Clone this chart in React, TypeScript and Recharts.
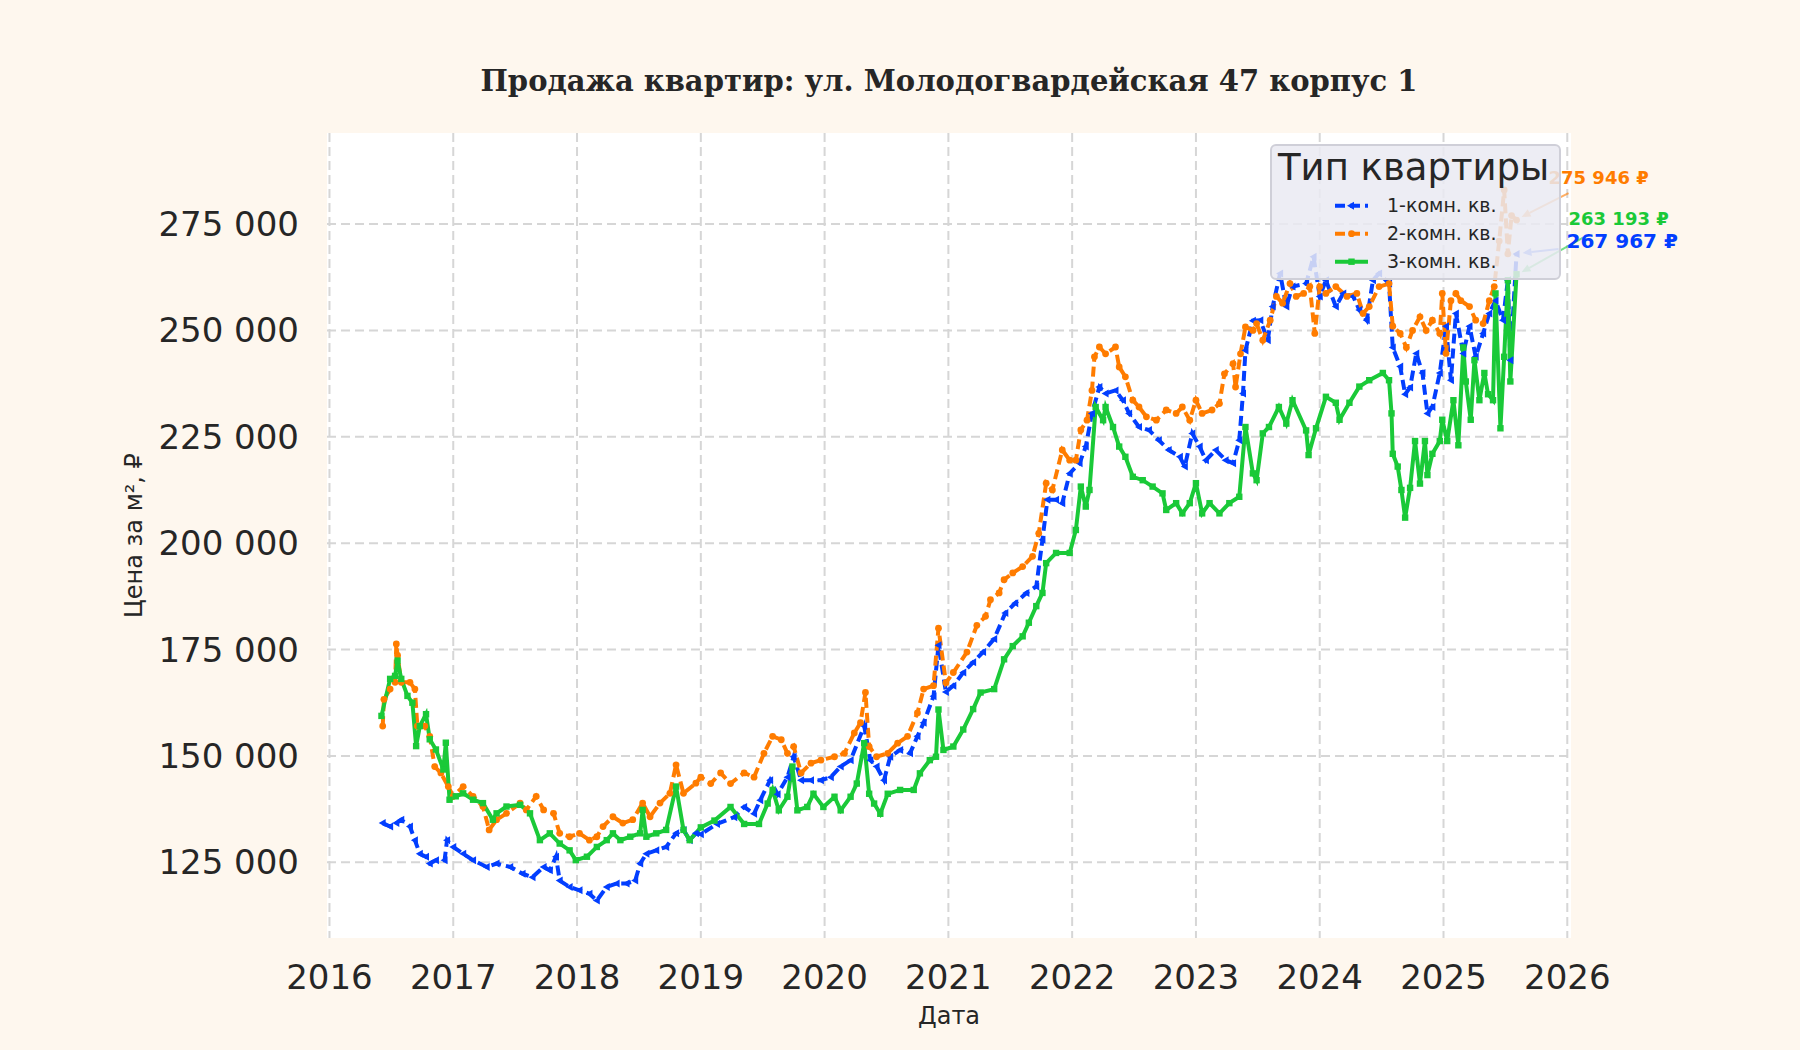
import React from "react";
import {
  LineChart,
  Line,
  XAxis,
  YAxis,
  CartesianGrid,
  Legend,
  ReferenceDot,
  Label,
} from "recharts";

// ---- data ----
const yearTicks = [2016, 2017, 2018, 2019, 2020, 2021, 2022, 2023, 2024, 2025, 2026];
const priceTicks = [125000, 150000, 175000, 200000, 225000, 250000, 275000];

const oneRoomDates = [
  2016.43, 2016.49, 2016.54, 2016.58, 2016.65, 2016.69, 2016.73, 2016.78, 2016.81, 2016.86,
  2016.93, 2016.95, 2017.0, 2017.08, 2017.16, 2017.27, 2017.35, 2017.46, 2017.56, 2017.64,
  2017.73, 2017.78, 2017.83, 2017.86, 2017.94, 2018.02, 2018.1, 2018.16, 2018.24, 2018.32,
  2018.4, 2018.47, 2018.51, 2018.56, 2018.64, 2018.72, 2018.8, 2018.86, 2018.91, 2018.96,
  2019.0, 2019.13, 2019.27, 2019.35, 2019.43, 2019.48, 2019.56, 2019.62, 2019.7, 2019.75,
  2019.81, 2019.89, 2019.97, 2020.05, 2020.13, 2020.21, 2020.32, 2020.37, 2020.42, 2020.48,
  2020.53, 2020.61, 2020.69, 2020.75, 2020.8, 2020.88, 2020.92, 2020.98, 2021.04, 2021.12,
  2021.2, 2021.28, 2021.37, 2021.46, 2021.54, 2021.63, 2021.71, 2021.76, 2021.8, 2021.87,
  2021.92, 2021.98, 2022.06, 2022.11, 2022.16, 2022.22, 2022.27, 2022.35, 2022.41, 2022.46,
  2022.54, 2022.62, 2022.7, 2022.78, 2022.87, 2022.91, 2022.97, 2023.03, 2023.08, 2023.16,
  2023.24, 2023.3, 2023.35, 2023.38, 2023.4, 2023.46, 2023.52, 2023.58, 2023.62, 2023.68,
  2023.73, 2023.78, 2023.89, 2023.95, 2024.0, 2024.05, 2024.13, 2024.19, 2024.27, 2024.32,
  2024.38, 2024.43, 2024.48, 2024.56, 2024.59, 2024.65, 2024.69, 2024.73, 2024.78, 2024.83,
  2024.87, 2024.91, 2024.97, 2025.02, 2025.06, 2025.1, 2025.16, 2025.21, 2025.26, 2025.32,
  2025.37, 2025.42, 2025.48, 2025.52, 2025.54, 2025.59,
];
const oneRoomPrices = [
  134200, 133400, 134200, 135000, 133400, 130200, 127000, 126300, 124700, 125500,
  125500, 130200, 128600, 127000, 125500, 123900, 124700, 123900, 122300, 121500,
  123900, 123100, 126300, 120700, 119200, 118400, 117600, 116000, 119200, 120000,
  120000, 120700, 124700, 127000, 127800, 128600, 131800, 132600, 130200, 131800,
  131600, 134000, 135600, 138000, 136400, 139600, 144300, 141000, 145000, 149800,
  144300, 144300, 144300, 145000, 147500, 149000, 157000, 149000, 147500, 144300,
  149800, 151400, 150600, 154600, 157800, 164000, 176000, 165000, 166500, 169600,
  172000, 174400, 177500, 183600, 185900, 188300, 189800, 200800, 210200, 210200,
  209400, 216400, 218800, 222700, 230500, 236700, 235200, 235900, 233600, 230500,
  227300, 226600, 224200, 221900, 220300, 218000, 225800, 222700, 219500, 221900,
  219500, 218800, 224200, 235200, 245300, 252300, 252400, 247700, 255600, 263400,
  255600, 260300, 261000, 267300, 258000, 261800, 255600, 258700, 258000, 254800,
  252400, 261800, 263400, 261000, 246000, 241500, 235000, 236600, 244600, 240000,
  230500, 232000, 240000, 251000, 238300, 254000, 244600, 251000, 243800, 249300,
  254000, 257000, 252400, 261800, 243000, 267967,
];

const twoRoomDates = [
  2016.43, 2016.44, 2016.49, 2016.53, 2016.54, 2016.55, 2016.58, 2016.65, 2016.69, 2016.71,
  2016.77, 2016.81, 2016.85, 2016.9, 2016.96, 2017.0, 2017.08, 2017.16, 2017.24, 2017.29,
  2017.35, 2017.43, 2017.54, 2017.59, 2017.67, 2017.73, 2017.81, 2017.86, 2017.94, 2018.02,
  2018.1, 2018.16, 2018.21, 2018.29, 2018.37, 2018.45, 2018.53, 2018.59, 2018.67, 2018.75,
  2018.8, 2018.86, 2018.96, 2019.0, 2019.08, 2019.16, 2019.24, 2019.35, 2019.43, 2019.51,
  2019.58, 2019.65, 2019.7, 2019.75, 2019.81, 2019.89, 2019.97, 2020.08, 2020.16, 2020.24,
  2020.29, 2020.33, 2020.36, 2020.42, 2020.51, 2020.59, 2020.67, 2020.75, 2020.8, 2020.88,
  2020.92, 2020.98, 2021.04, 2021.15, 2021.23, 2021.3, 2021.34, 2021.41, 2021.45, 2021.52,
  2021.6, 2021.68, 2021.73, 2021.79, 2021.84, 2021.92, 2021.98, 2022.03, 2022.07, 2022.12,
  2022.16, 2022.18, 2022.22, 2022.27, 2022.35, 2022.38, 2022.43, 2022.49, 2022.54, 2022.6,
  2022.68, 2022.76, 2022.84, 2022.89, 2022.95, 2023.0, 2023.05, 2023.13, 2023.19, 2023.23,
  2023.3, 2023.32, 2023.36, 2023.4, 2023.46, 2023.49, 2023.54, 2023.6, 2023.65, 2023.7,
  2023.76, 2023.81, 2023.87, 2023.92, 2023.96, 2024.0, 2024.05, 2024.13, 2024.22, 2024.3,
  2024.35, 2024.4, 2024.48, 2024.56, 2024.59, 2024.65, 2024.7, 2024.75, 2024.81, 2024.86,
  2024.91, 2024.97, 2024.99, 2025.02, 2025.06, 2025.1, 2025.14, 2025.21, 2025.26, 2025.32,
  2025.37, 2025.41, 2025.45, 2025.49, 2025.52, 2025.55, 2025.59,
];
const twoRoomPrices = [
  157000, 163300, 165700, 167300, 176300, 173600, 167300, 167300, 165700, 157000,
  157000, 154600, 147500, 146000, 142800, 140500, 142800, 140500, 138100, 132600,
  135000, 136500, 138900, 137300, 140500, 137300, 136500, 131800, 131000, 131800,
  130200, 131000, 133400, 135700, 134200, 135000, 138900, 135700, 138900, 141200,
  147900, 141200, 143600, 145000, 143500, 146000, 143500, 146000, 145000, 150600,
  154600, 153800, 150600, 152200, 146000, 148300, 149000, 149800, 150600, 155400,
  157800, 164900, 152200, 149800, 150600, 153000, 154600, 160100, 165700, 166500,
  180000, 167200, 169600, 174400, 180700, 182800, 186700, 188300, 191400, 193000,
  194500, 196900, 202300, 214100, 212500, 221900, 219500, 219500, 226600, 228900,
  235900, 243800, 246100, 244500, 246100, 241400, 239100, 233600, 232000, 229700,
  228900, 231300, 230500, 232000, 228900, 233600, 230500, 231300, 232800, 239800,
  242200, 236700, 244500, 250800, 250000, 251600, 247700, 252400, 258000, 256400,
  261000, 258000, 258700, 260300, 249300, 260300, 258700, 260300, 258000, 258700,
  254000, 255600, 260300, 261000, 251000, 249300, 246000, 250000, 253200, 250000,
  252400, 249300, 258700, 244600, 257000, 258700, 257000, 255600, 252400, 251600,
  257000, 260300, 271000, 283000, 268000, 277000, 275946,
];

const threeRoomDates = [
  2016.42, 2016.49, 2016.53, 2016.55, 2016.58, 2016.63, 2016.67, 2016.7, 2016.73, 2016.78,
  2016.81, 2016.86, 2016.92, 2016.94, 2016.97, 2017.02, 2017.08, 2017.16, 2017.24, 2017.32,
  2017.35, 2017.43, 2017.54, 2017.62, 2017.7, 2017.78, 2017.86, 2017.94, 2017.99, 2018.08,
  2018.16, 2018.24, 2018.29, 2018.35, 2018.43, 2018.51, 2018.53, 2018.56, 2018.64, 2018.72,
  2018.8, 2018.86, 2018.91, 2019.0, 2019.11, 2019.24, 2019.35, 2019.47, 2019.54, 2019.58,
  2019.63, 2019.7, 2019.74, 2019.78, 2019.86, 2019.91, 2019.99, 2020.08, 2020.13, 2020.21,
  2020.26, 2020.32, 2020.36, 2020.4, 2020.45, 2020.51, 2020.61, 2020.72, 2020.77, 2020.85,
  2020.9, 2020.92, 2020.96, 2021.04, 2021.12, 2021.2, 2021.26, 2021.37, 2021.45, 2021.52,
  2021.6, 2021.65, 2021.71, 2021.76, 2021.79, 2021.87, 2021.98, 2022.03, 2022.07, 2022.11,
  2022.14, 2022.19, 2022.25, 2022.27, 2022.33, 2022.38, 2022.43, 2022.49, 2022.57, 2022.65,
  2022.73, 2022.76, 2022.84, 2022.89, 2022.95, 2023.0, 2023.05, 2023.11, 2023.19, 2023.27,
  2023.35, 2023.4, 2023.46, 2023.49, 2023.54, 2023.59, 2023.67, 2023.73, 2023.78, 2023.89,
  2023.91, 2023.97, 2024.05, 2024.13, 2024.16, 2024.24, 2024.32, 2024.4, 2024.51, 2024.56,
  2024.58, 2024.59, 2024.63, 2024.66, 2024.69, 2024.73, 2024.77, 2024.81, 2024.85, 2024.87,
  2024.91, 2024.97, 2024.99, 2025.03, 2025.08, 2025.12, 2025.16, 2025.18, 2025.22, 2025.25,
  2025.29, 2025.33, 2025.36, 2025.4, 2025.42, 2025.46, 2025.49, 2025.52, 2025.54, 2025.59,
];
const threeRoomPrices = [
  159400, 168100, 168800, 172400, 168100, 164100, 162500, 152300, 157000, 159800,
  153900, 151500, 146800, 153100, 139700, 140500, 141200, 139700, 138900, 135000,
  136500, 138100, 138500, 136500, 130200, 131800, 129400, 127800, 125500, 126300,
  128600, 130200, 131800, 130200, 131000, 131800, 137300, 131000, 131800, 132600,
  142800, 132600, 130200, 133200, 134800, 138000, 134000, 134000, 138800, 142000,
  137200, 140400, 147500, 137200, 138000, 141100, 138000, 140400, 137200, 140400,
  143500, 153000, 141100, 138800, 136400, 141100, 142000, 142000, 145900, 149000,
  149800, 160900, 151400, 152200, 156200, 161000, 164900, 165700, 172700, 175800,
  178100, 181300, 185200, 188300, 195300, 197700, 197700, 203100, 213300, 208600,
  212500, 232000, 228900, 232000, 227300, 222700, 220300, 215600, 214800, 213300,
  211700, 207800, 209400, 207000, 209400, 214100, 207000, 209400, 207000, 209400,
  210900, 227300, 216400, 214800, 225800, 227300, 232000, 228100, 233600, 226500,
  220700, 227000, 234400, 233000, 229000, 233000, 236800, 238300, 240000, 238300,
  230500, 221000, 218000, 212500, 206000, 213000, 224000, 214000, 224000, 216000,
  221000, 224000, 229000, 224000, 233600, 223000, 246000, 238000, 229000, 243000,
  233600, 240000, 235000, 233600, 258700, 227000, 243800, 261800, 238000, 263193,
];

const BLUE = "#023eff";
const ORANGE = "#ff7c00";
const GREEN = "#1ac938";
const INK = "#262626";
const FONT = "DejaVu Sans";

const toRows = (xs: number[], ys: number[]) => xs.map((x, i) => ({ x, y: ys[i] }));
const oneRoom = toRows(oneRoomDates, oneRoomPrices);
const twoRoom = toRows(twoRoomDates, twoRoomPrices);
const threeRoom = toRows(threeRoomDates, threeRoomPrices);

const fmtPrice = (v: number) => String(Math.round(v)).replace(/\B(?=(\d{3})+(?!\d))/g, " ");

// ---- markers ----
const triDot = (p: any) => {
  const { cx, cy, index } = p;
  if (cx == null || cy == null) return <g key={`t${index}`} />;
  return (
    <polygon
      key={`t${index}`}
      points={`${cx - 4},${cy} ${cx + 3},${cy - 4} ${cx + 3},${cy + 4}`}
      fill={BLUE}
    />
  );
};
const circleDot = (p: any) => {
  const { cx, cy, index } = p;
  if (cx == null || cy == null) return <g key={`c${index}`} />;
  return <circle key={`c${index}`} cx={cx} cy={cy} r={3.4} fill={ORANGE} />;
};
const squareDot = (p: any) => {
  const { cx, cy, index } = p;
  if (cx == null || cy == null) return <g key={`s${index}`} />;
  return <rect key={`s${index}`} x={cx - 3.2} y={cy - 3.2} width={6.4} height={6.4} fill={GREEN} />;
};

// ---- end-of-line callouts ----
function Callout({ cx, cy, color, text, size, lx, ly, tx, ty, hx, hy }: any) {
  if (cx == null || cy == null) return null;
  const x1 = cx + tx, y1 = cy + ty, x2 = cx + hx, y2 = cy + hy;
  const a = Math.atan2(y2 - y1, x2 - x1);
  const L = 9, W = 4;
  const bx = x2 - L * Math.cos(a), by = y2 - L * Math.sin(a);
  const p1 = `${bx + W * Math.sin(a)},${by - W * Math.cos(a)}`;
  const p2 = `${bx - W * Math.sin(a)},${by + W * Math.cos(a)}`;
  return (
    <g>
      <line x1={x1} y1={y1} x2={bx} y2={by} stroke={color} strokeWidth={2} strokeOpacity={0.6} />
      <polygon points={`${x2},${y2} ${p1} ${p2}`} fill={color} fillOpacity={0.6} />
      <text x={cx + lx} y={cy + ly} fill={color} fontFamily={FONT} fontWeight="bold" fontSize={size}>
        {text}
      </text>
    </g>
  );
}

// ---- legend ----
const legendItems = [
  { label: "1-комн. кв.", color: BLUE, dash: "10 5", kind: "tri" },
  { label: "2-комн. кв.", color: ORANGE, dash: "10 5", kind: "circle" },
  { label: "3-комн. кв.", color: GREEN, dash: undefined, kind: "square" },
];

function LegendBox() {
  return (
    <svg width={292} height={137} style={{ display: "block" }}>
      <rect x={1} y={1} width={289} height={134} rx={5} fill="#eaeaf2" fillOpacity={0.85} stroke="#cfcfd8" strokeWidth={2} />
      <text x={8} y={36} fontFamily={FONT} fontSize={37} fill={INK}>
        Тип квартиры
      </text>
      {legendItems.map((it, i) => {
        const base = 67.7 + i * 28;
        const y = base - 6;
        return (
          <g key={it.label}>
            <line x1={65} x2={98} y1={y} y2={y} stroke={it.color} strokeWidth={4} strokeDasharray={it.dash} />
            {it.kind === "tri" && <polygon points={`${77},${y} ${84},${y - 4} ${84},${y + 4}`} fill={it.color} />}
            {it.kind === "circle" && <circle cx={81.5} cy={y} r={3.4} fill={it.color} />}
            {it.kind === "square" && <rect x={78.3} y={y - 3.2} width={6.4} height={6.4} fill={it.color} />}
            <text x={117} y={base} fontFamily={FONT} fontSize={19} fill={INK}>
              {it.label}
            </text>
          </g>
        );
      })}
    </svg>
  );
}

const last = (rows: { x: number; y: number }[]) => rows[rows.length - 1];

export default function App() {
  const o = last(oneRoom), t = last(twoRoom), g = last(threeRoom);
  return (
    <div style={{ position: "fixed", left: 0, top: 0, width: 1800, height: 1050, background: "#fef7ee" }}>
      <svg width={1800} height={120} style={{ position: "absolute", left: 0, top: 0 }}>
        <text x={949} y={91} textAnchor="middle" fontFamily="DejaVu Serif" fontWeight="bold" fontSize={29} fill={INK}>
          Продажа квартир: ул. Молодогвардейская 47 корпус 1
        </text>
      </svg>
      <LineChart width={1800} height={1050} margin={{ top: 133, right: 229, bottom: 0, left: 0 }}>
        <CartesianGrid stroke="#d6d6d6" strokeWidth={2} strokeDasharray="9 5" fill="#ffffff" syncWithTicks />
        <XAxis
          type="number"
          dataKey="x"
          domain={[2015.98, 2026.03]}
          ticks={yearTicks}
          allowDataOverflow
          height={112}
          axisLine={false}
          tickLine={false}
          tickSize={0}
          tickMargin={27}
          tick={{ fontSize: 34, fill: INK, fontFamily: FONT }}
          tickFormatter={(v: number) => String(v)}
        >
          <Label value="Дата" position="insideBottom" offset={26} style={{ fontSize: 24, fill: INK, fontFamily: FONT }} />
        </XAxis>
        <YAxis
          type="number"
          domain={[107200, 296400]}
          ticks={priceTicks}
          allowDataOverflow
          width={327}
          axisLine={false}
          tickLine={false}
          tickSize={0}
          tickMargin={28}
          tick={{ fontSize: 34, fill: INK, fontFamily: FONT }}
          tickFormatter={fmtPrice}
          label={(props: any) => {
            const vb = props.viewBox || { x: 0, y: 133, width: 327, height: 805 };
            const cx = vb.x + 134;
            const cy = vb.y + vb.height / 2;
            return (
              <text
                x={cx}
                y={cy}
                transform={`rotate(-90, ${cx}, ${cy})`}
                textAnchor="middle"
                dominantBaseline="central"
                fontFamily={FONT}
                fontSize={24}
                fill={INK}
              >
                Цена за м², ₽
              </text>
            );
          }}
        />
        <Line
          data={oneRoom}
          dataKey="y"
          name="1-комн. кв."
          type="linear"
          stroke={BLUE}
          strokeWidth={4}
          strokeDasharray="10 5"
          dot={triDot}
          activeDot={false}
          isAnimationActive={false}
        />
        <Line
          data={twoRoom}
          dataKey="y"
          name="2-комн. кв."
          type="linear"
          stroke={ORANGE}
          strokeWidth={4}
          strokeDasharray="10 5"
          dot={circleDot}
          activeDot={false}
          isAnimationActive={false}
        />
        <Line
          data={threeRoom}
          dataKey="y"
          name="3-комн. кв."
          type="linear"
          stroke={GREEN}
          strokeWidth={4}
          dot={squareDot}
          activeDot={false}
          isAnimationActive={false}
        />
        <ReferenceDot
          x={t.x}
          y={t.y}
          r={0}
          ifOverflow="visible"
          shape={(p: any) => (
            <Callout cx={p.cx} cy={p.cy} color={ORANGE} size={18} text={`${fmtPrice(t.y)} ₽`} lx={32} ly={-36} tx={52} ty={-27} hx={5} hy={-3} />
          )}
        />
        <ReferenceDot
          x={g.x}
          y={g.y}
          r={0}
          ifOverflow="visible"
          shape={(p: any) => (
            <Callout cx={p.cx} cy={p.cy} color={GREEN} size={18} text={`${fmtPrice(g.y)} ₽`} lx={52} ly={-49} tx={67} ty={-37} hx={5} hy={-2} />
          )}
        />
        <ReferenceDot
          x={o.x}
          y={o.y}
          r={0}
          ifOverflow="visible"
          shape={(p: any) => (
            <Callout cx={p.cx} cy={p.cy} color={BLUE} size={20} text={`${fmtPrice(o.y)} ₽`} lx={50} ly={-6} tx={42} ty={-5} hx={6} hy={-1} />
          )}
        />
        <Legend
          layout="vertical"
          align="center"
          verticalAlign="middle"
          wrapperStyle={{ left: 1270, top: 144, width: 292, height: 137 }}
          content={() => <LegendBox />}
        />
      </LineChart>
    </div>
  );
}
